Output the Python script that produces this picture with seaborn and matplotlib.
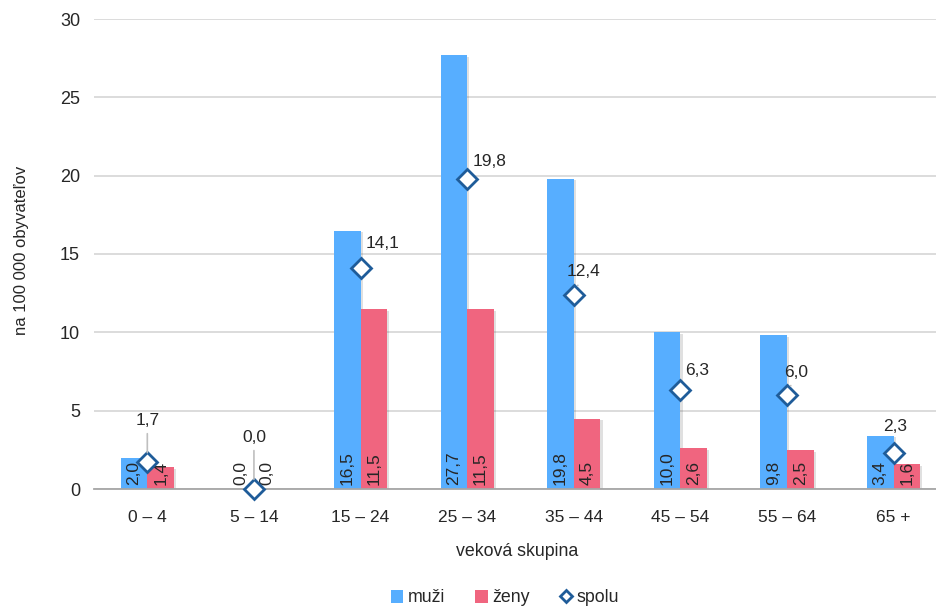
import numpy as np
import pandas as pd
import matplotlib
matplotlib.use("Agg")
import matplotlib.pyplot as plt
import matplotlib.patheffects as pe
from matplotlib.lines import Line2D
from matplotlib.patches import Patch
import seaborn as sns

# Data: rate per 100 000 inhabitants by age group
categories = ["0 – 4", "5 – 14", "15 – 24", "25 – 34", "35 – 44", "45 – 54", "55 – 64", "65 +"]
muzi = [2.0, 0.0, 16.5, 27.7, 19.8, 10.0, 9.8, 3.4]
zeny = [1.4, 0.0, 11.5, 11.5, 4.5, 2.6, 2.5, 1.6]
spolu = [1.7, 0.0, 14.1, 19.8, 12.4, 6.3, 6.0, 2.3]
series_names = ["muži", "ženy", "spolu"]
y_ticks = [0, 5, 10, 15, 20, 25, 30]

# Label offsets (in points) for the "spolu" labels and which ones get a leader line
spolu_offsets = [(0, 25), (0, 32), (16, 12), (16, 7), (7, 11), (12, 9), (6.5, 11), (1, 14)]
spolu_leaders = [True, True, False, False, True, False, True, False]

BLUE = "#57AEFF"
RED = "#F0657F"
MARKER_EDGE = "#1F5C99"
TEXT = "#262626"

sns.set_theme(style="white")
plt.rcParams["font.family"] = ["Liberation Sans", "DejaVu Sans"]


def fmt(v):
    return f"{v:.1f}".replace(".", ",")


df = pd.DataFrame({
    "skupina": categories * 2,
    "pohlavie": [series_names[0]] * len(categories) + [series_names[1]] * len(categories),
    "hodnota": muzi + zeny,
})

fig = plt.figure(figsize=(9.37, 6.09), dpi=100)
ax = fig.add_axes([94 / 937, 1 - 489 / 609, 853 / 937, 470 / 609])

sns.barplot(data=df, x="skupina", y="hodnota", hue="pohlavie",
            palette=[BLUE, RED], width=0.5, saturation=1, errorbar=None,
            legend=False, ax=ax, zorder=2)

shadow = [pe.SimplePatchShadow(offset=(1.5, -1.2), alpha=0.18, shadow_rgbFace="#555555"), pe.Normal()]
for container in ax.containers:
    for bar in container:
        bar.set_linewidth(0)
        bar.set_path_effects(shadow)

# Value labels inside the base of each bar, rotated
for container, values in zip(ax.containers, [muzi, zeny]):
    for bar, v in zip(container, values):
        cx = bar.get_x() + bar.get_width() / 2
        ax.text(cx, 0.25, fmt(v), rotation=90, ha="center", va="bottom",
                fontsize=12.5, color=TEXT, zorder=5)

# Combined rate as diamond markers
xpos = np.arange(len(categories))
ax.plot(xpos, spolu, linestyle="none", marker="D", markersize=10,
        markerfacecolor="white", markeredgecolor=MARKER_EDGE, markeredgewidth=2,
        zorder=6, clip_on=False)

for x, v, off, lead in zip(xpos, spolu, spolu_offsets, spolu_leaders):
    arrow = dict(arrowstyle="-", color="#bfbfbf", lw=1.2, shrinkA=2, shrinkB=7) if lead else None
    ax.annotate(fmt(v), xy=(x, v), xytext=off, textcoords="offset points",
                ha="center", va="bottom", fontsize=12.5, color=TEXT,
                arrowprops=arrow, zorder=7)

ax.set_xlim(-0.5, len(categories) - 0.5)
ax.set_ylim(0, 30)
ax.set_yticks(y_ticks)
ax.set_yticklabels([str(t) for t in y_ticks])
ax.set_xlabel("")
ax.set_ylabel("")
ax.yaxis.grid(True, color="#d9d9d9", linewidth=1.3, zorder=0)
ax.set_axisbelow(True)
for side in ["left", "right", "top"]:
    ax.spines[side].set_visible(False)
ax.spines["bottom"].set_color("#a6a6a6")
ax.spines["bottom"].set_linewidth(1.3)
ax.tick_params(axis="y", length=0, pad=10, labelsize=13, labelcolor=TEXT)
ax.tick_params(axis="x", length=0, pad=15, labelsize=12.5, labelcolor=TEXT)

fig.text(22 / 937, 1 - 250 / 609, "na 100 000 obyvateľov", rotation=90,
         ha="center", va="center", fontsize=12, color=TEXT)
fig.text(517 / 937, 1 - 551 / 609, "veková skupina", ha="center", va="center",
         fontsize=12.8, color=TEXT)

handles = [
    Patch(facecolor=BLUE, edgecolor="none"),
    Patch(facecolor=RED, edgecolor="none"),
    Line2D([], [], linestyle="none", marker="D", markersize=6,
           markerfacecolor="white", markeredgecolor=MARKER_EDGE, markeredgewidth=2),
]
fig.legend(handles, series_names, loc="center", bbox_to_anchor=(505 / 937, 1 - 598 / 609),
           ncol=3, frameon=False, fontsize=12.8, handlelength=0.7, handleheight=0.7,
           handletextpad=0.25, columnspacing=1.7, labelcolor=TEXT)

fig.savefig("out.png", dpi=100)
